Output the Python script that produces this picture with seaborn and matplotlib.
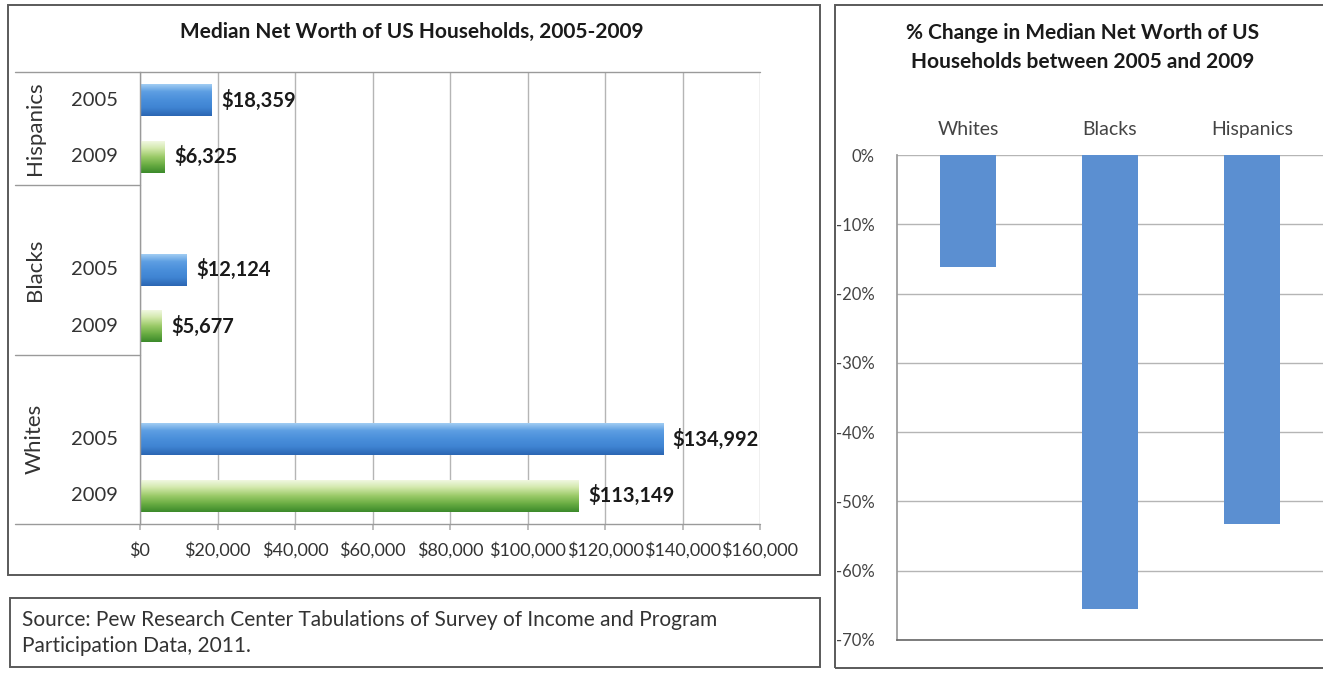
import numpy as np
import pandas as pd
import matplotlib
matplotlib.use("Agg")
import matplotlib.pyplot as plt
import seaborn as sns
from matplotlib.patches import Rectangle
from matplotlib.lines import Line2D
from matplotlib.colors import LinearSegmentedColormap

# ---------------- data ----------------
groups = ["Hispanics", "Hispanics", "Blacks", "Blacks", "Whites", "Whites"]
years = ["2005", "2009", "2005", "2009", "2005", "2009"]
net_worth = [18359, 6325, 12124, 5677, 134992, 113149]
value_labels = ["$18,359", "$6,325", "$12,124", "$5,677", "$134,992", "$113,149"]
group_order = ["Hispanics", "Blacks", "Whites"]
year_order = ["2005", "2009"]
x_ticks = [0, 20000, 40000, 60000, 80000, 100000, 120000, 140000, 160000]
x_tick_labels = ["$0", "$20,000", "$40,000", "$60,000", "$80,000",
                 "$100,000", "$120,000", "$140,000", "$160,000"]

change_groups = ["Whites", "Blacks", "Hispanics"]
pct_change = [-16.2, -65.5, -53.2]
y_ticks = [0, -10, -20, -30, -40, -50, -60, -70]
y_tick_labels = ["0%", "-10%", "-20%", "-30%", "-40%", "-50%", "-60%", "-70%"]

title_left = "Median Net Worth of US Households, 2005-2009"
title_right = ["% Change in Median Net Worth of US", "Households between 2005 and 2009"]
source_lines = ["Source: Pew Research Center Tabulations of Survey of Income and Program",
                "Participation Data, 2011."]

# ---------------- setup ----------------
W, H = 1323, 683
sns.set_theme(style="white")
plt.rcParams['font.family'] = ['Lato', 'DejaVu Sans']
fig = plt.figure(figsize=(W / 100, H / 100), dpi=100)
fig.patch.set_facecolor("white")

def axrect(x0, y0, x1, y1):
    return [x0 / W, 1 - y1 / H, (x1 - x0) / W, (y1 - y0) / H]

# panel boxes
for (x0, y0, x1, y1) in [(8, 5, 820, 575), (10, 598, 820, 667), (835, 5, 1335, 668)]:
    fig.patches.append(Rectangle((x0 / W, 1 - y1 / H), (x1 - x0) / W, (y1 - y0) / H,
                                 transform=fig.transFigure, fill=False,
                                 ec="#5a5a5a", lw=1.4))

TXT = "#1a1a1a"

# ---------------- left chart ----------------
ax1 = fig.add_axes(axrect(140, 72, 760, 524))
rows = [group_order.index(g) * 3 + year_order.index(y) for g, y in zip(groups, years)]
df = pd.DataFrame({"group": groups, "year": years, "value": net_worth, "row": rows})

sns.barplot(data=df, x="value", y="row", hue="year", hue_order=year_order,
            palette={"2005": "#4a8bd6", "2009": "#7cb84c"}, orient="h",
            native_scale=True, dodge=False, width=0.57, legend=False, ax=ax1,
            edgecolor="none")

grads = {
    "2005": LinearSegmentedColormap.from_list("b", ["#a9d2f5", "#5e9fe2", "#4a8fdb", "#3f84d2", "#2b66b3"]),
    "2009": LinearSegmentedColormap.from_list("g", ["#f4f9e6", "#d3e8ac", "#9ccb6a", "#6aad43", "#3c8a2b"]),
}
gradient = np.linspace(0, 1, 64).reshape(-1, 1)
for patch in list(ax1.patches):
    x0, y0 = patch.get_x(), patch.get_y()
    w, h = patch.get_width(), patch.get_height()
    if w <= 0:
        continue
    yc = y0 + h / 2
    yr = years[rows.index(int(round(yc)))]
    im = ax1.imshow(gradient, cmap=grads[yr], aspect="auto", origin="upper",
                    extent=[x0, x0 + w, y0 + h, y0], zorder=patch.get_zorder() + 0.1,
                    interpolation="bilinear")
    im.set_clip_path(patch)

ax1.set_xlim(0, 160000)
ax1.set_ylim(7.5, -0.5)
ax1.set_xticks(x_ticks)
ax1.set_xticklabels(x_tick_labels, fontsize=13, color="#333333")
ax1.set_yticks([])
ax1.set_xlabel("")
ax1.set_ylabel("")
ax1.grid(axis="x", color="#b5b5b5", lw=1.0)
ax1.set_axisbelow(True)
ax1.tick_params(axis="x", length=4, color="#b5b5b5", pad=9, bottom=True)
for s in ["top", "right", "bottom"]:
    ax1.spines[s].set_visible(False)
ax1.spines["left"].set_color("#9a9a9a")
ax1.spines["left"].set_linewidth(1.0)

tr = ax1.get_yaxis_transform()
left_ext = (15 - 140) / 620
for yv in (-0.5, 7.5):
    ax1.add_line(Line2D([left_ext, 1], [yv, yv], transform=tr, color="#9a9a9a",
                        lw=1.0, clip_on=False))
for yv in (1.5, 4.5):
    ax1.add_line(Line2D([left_ext, 0], [yv, yv], transform=tr, color="#9a9a9a",
                        lw=1.0, clip_on=False))

for r, y in zip(rows, years):
    ax1.text((118 - 140) / 620, r, y, transform=tr, ha="right", va="center",
             fontsize=14.5, color="#333333")
group_centers = {"Hispanics": 0.5, "Blacks": 3, "Whites": 6}
for g in group_order:
    ax1.text((35 - 140) / 620, group_centers[g], g, transform=tr, ha="center",
             va="center", rotation=90, fontsize=16, color="#333333")

for v, r, lab in zip(net_worth, rows, value_labels):
    ax1.annotate(lab, (v, r), xytext=(7, 0), textcoords="offset points",
                 ha="left", va="center", fontsize=14.5, fontweight="bold", color=TXT)

fig.text(412 / W, 1 - 32 / H, title_left, ha="center", va="center",
         fontsize=15, fontweight="bold", color=TXT)

# ---------------- source box ----------------
fig.text(22 / W, 1 - 620 / H, source_lines[0], ha="left", va="center",
         fontsize=15, color="#333333")
fig.text(22 / W, 1 - 646 / H, source_lines[1], ha="left", va="center",
         fontsize=15, color="#333333")

# ---------------- right chart ----------------
ax2 = fig.add_axes(axrect(897, 155, 1323, 640))
df2 = pd.DataFrame({"group": change_groups, "pct": pct_change})
sns.barplot(data=df2, x="group", y="pct", order=change_groups, color="#5b8fd1",
            saturation=1, width=0.39, ax=ax2, edgecolor="none")
ax2.set_ylim(-70, 0)
ax2.set_yticks(y_ticks)
ax2.set_yticklabels(y_tick_labels, fontsize=12, color="#444444")
ax2.set_xlabel("")
ax2.set_ylabel("")
ax2.xaxis.tick_top()
ax2.tick_params(axis="x", length=0, pad=12, labelsize=14, labelcolor="#444444")
ax2.tick_params(axis="y", length=0, pad=16)
ax2.grid(axis="y", color="#b5b5b5", lw=1.0)
ax2.set_axisbelow(True)
for s in ["top", "right"]:
    ax2.spines[s].set_visible(False)
ax2.spines["left"].set_color("#9a9a9a")
ax2.spines["bottom"].set_color("#666666")
ax2.spines["bottom"].set_linewidth(1.2)

fig.text(1083 / W, 1 - 33 / H, title_right[0], ha="center", va="center",
         fontsize=15, fontweight="bold", color=TXT)
fig.text(1083 / W, 1 - 62 / H, title_right[1], ha="center", va="center",
         fontsize=15, fontweight="bold", color=TXT)

fig.savefig("out.png", dpi=100, facecolor="white")
